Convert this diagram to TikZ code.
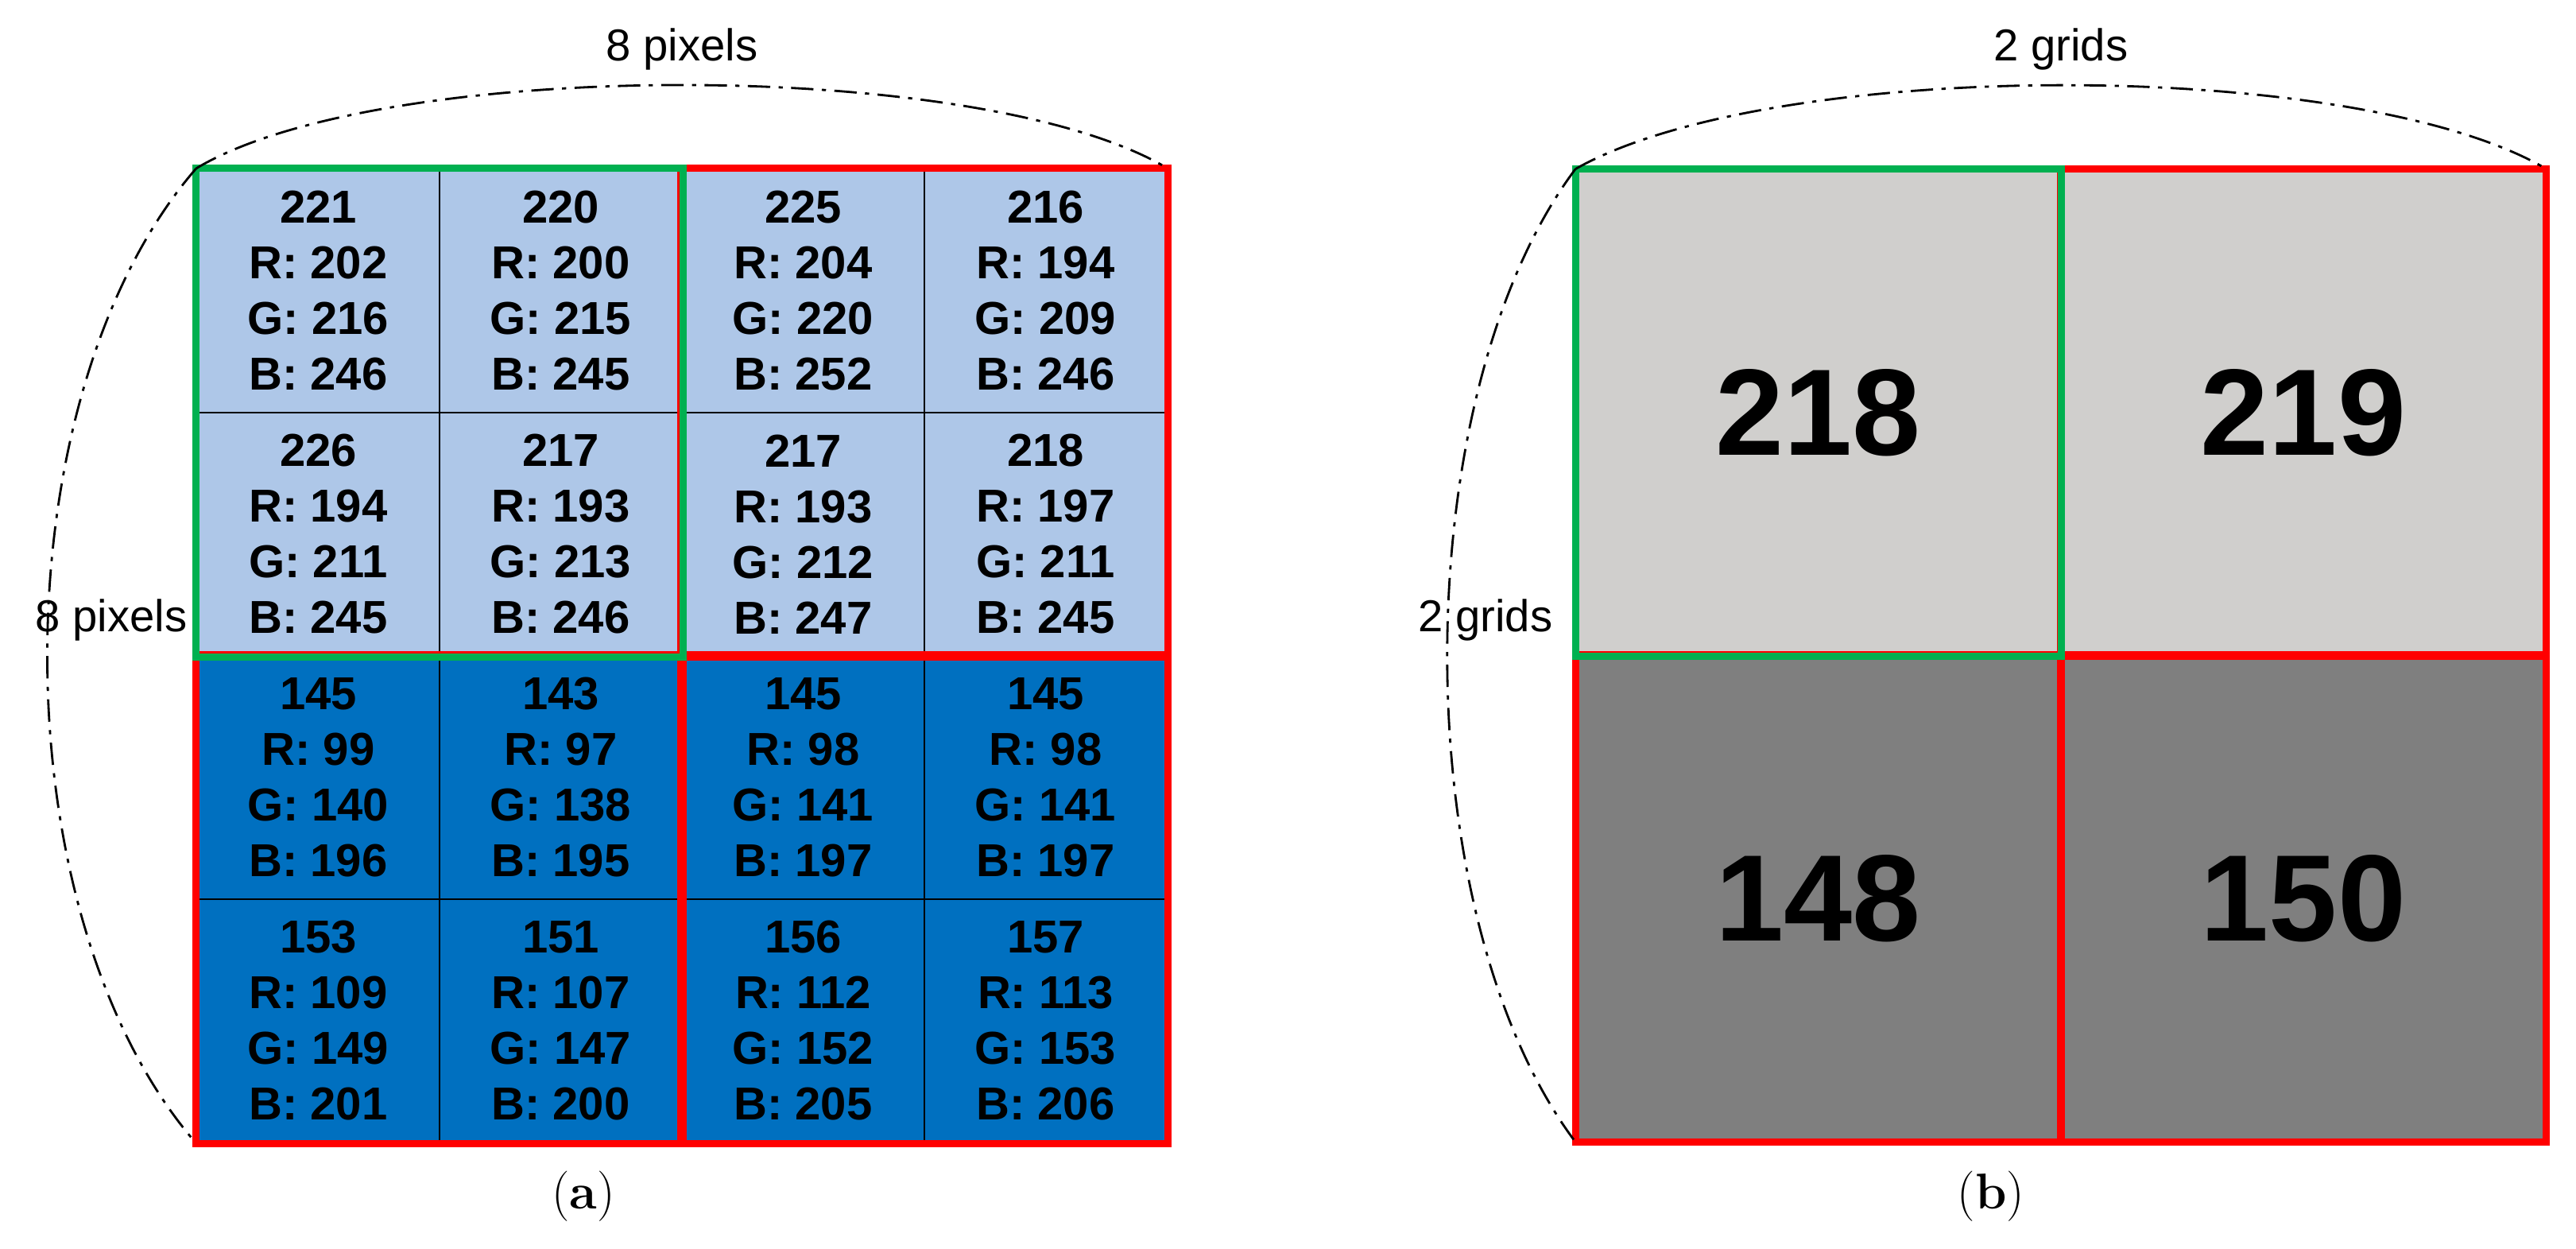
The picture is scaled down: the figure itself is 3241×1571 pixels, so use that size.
\documentclass[tikz,border=0pt]{standalone}
\usepackage{fontspec}
\setmainfont{Liberation Sans}
\newfontfamily\capfont{Latin Modern Roman}
\definecolor{lb}{RGB}{174,199,232}
\definecolor{db}{RGB}{0,112,192}
\definecolor{lg}{RGB}{208,207,205}
\definecolor{dg}{RGB}{127,127,127}
\definecolor{gr}{RGB}{0,176,80}
\definecolor{rd}{RGB}{255,0,0}
\begin{document}
\begin{tikzpicture}[x=0.01cm,y=-0.01cm,
  cell/.style={draw=black,line width=0.6pt,minimum width=3.05cm,minimum height=3.06cm,inner sep=0pt,align=center,font=\fontsize{16.5}{19.9}\selectfont\bfseries},
  big/.style={minimum width=6.1cm,minimum height=6.11cm,inner sep=0pt,font=\fontsize{44}{50}\selectfont\bfseries},
  gbox/.style={draw=gr,line width=2.6pt},
  rbox/.style={draw=rd,line width=2.6pt},
  dim/.style={black,line width=0.8pt,dash pattern=on 8pt off 3pt on 1.5pt off 3pt},
  lab/.style={font=\fontsize{16}{19}\selectfont},
  capt/.style={font=\capfont\fontsize{18}{21}\selectfont}]
\fill[white] (0,0) rectangle (3241,1571);
\useasboundingbox (0,0) rectangle (3241,1571);
% left grid
\foreach \j/\row in {0/{221/202/216/246,220/200/215/245,225/204/220/252,216/194/209/246},
  1/{226/194/211/245,217/193/213/246,217/193/212/247,218/197/211/245},
  2/{145/99/140/196,143/97/138/195,145/98/141/197,145/98/141/197},
  3/{153/109/149/201,151/107/147/200,156/112/152/205,157/113/153/206}}{
  \foreach \v/\r/\g/\b [count=\i from 0] in \row {
    \pgfmathsetmacro\cx{248+152.5+305*\i}
    \pgfmathsetmacro\cy{213+153+306*\j}
    \ifnum\j<2 \def\fc{lb}\else\def\fc{db}\fi
    \node[cell,fill=\fc] (c\j\i) at (\cx,\cy) {\v\\R: \r\\G: \g\\B: \b};
  }
}
\draw[rbox] (c02.north west) rectangle (c13.south east);
\draw[rbox] (c20.north west) rectangle (c31.south east);
\draw[rbox] (c22.north west) rectangle (c33.south east);
\draw[gbox] (c00.north west) rectangle (c11.south east);
% right grid
\node[big,fill=lg] (g00) at (2288,519) {218};
\node[big,fill=lg] (g01) at (2898,519) {219};
\node[big,fill=dg] (g10) at (2288,1130) {148};
\node[big,fill=dg] (g11) at (2898,1130) {150};
\draw[rbox] (g01.north west) rectangle (g01.south east);
\draw[rbox] (g10.north west) rectangle (g10.south east);
\draw[rbox] (g11.north west) rectangle (g11.south east);
\draw[gbox] (g00.north west) rectangle (g00.south east);
% dimension curves
\coordinate (a1) at (c00.north west);
\coordinate (a2) at (c03.north east);
\coordinate (a3) at (c30.south west);
\draw[dim] (a1) .. controls (480,72) and (1236,72) .. (a2);
\draw[dim] (a1) .. controls (-3,500) and (-3,1150) .. (a3);
\coordinate (b1) at (g00.north west);
\coordinate (b2) at (g01.north east);
\coordinate (b3) at (g10.south west);
\draw[dim] (b1) .. controls (2230,72) and (2966,72) .. (b2);
\draw[dim] (b1) .. controls (1767,500) and (1767,1150) .. (b3);
\node[lab] (t1) at (858,62) {8 pixels};
\node[lab] (t2) at (2593,62) {2 grids};
\node[lab] (t3) at (140,780) {8 pixels};
\node[lab] (t4) at (1869,780) {2 grids};
\node[capt] (ca) at (734,1505) {(\textbf{a})};
\node[capt] (cb) at (2505,1505) {(\textbf{b})};
\end{tikzpicture}
\end{document}
